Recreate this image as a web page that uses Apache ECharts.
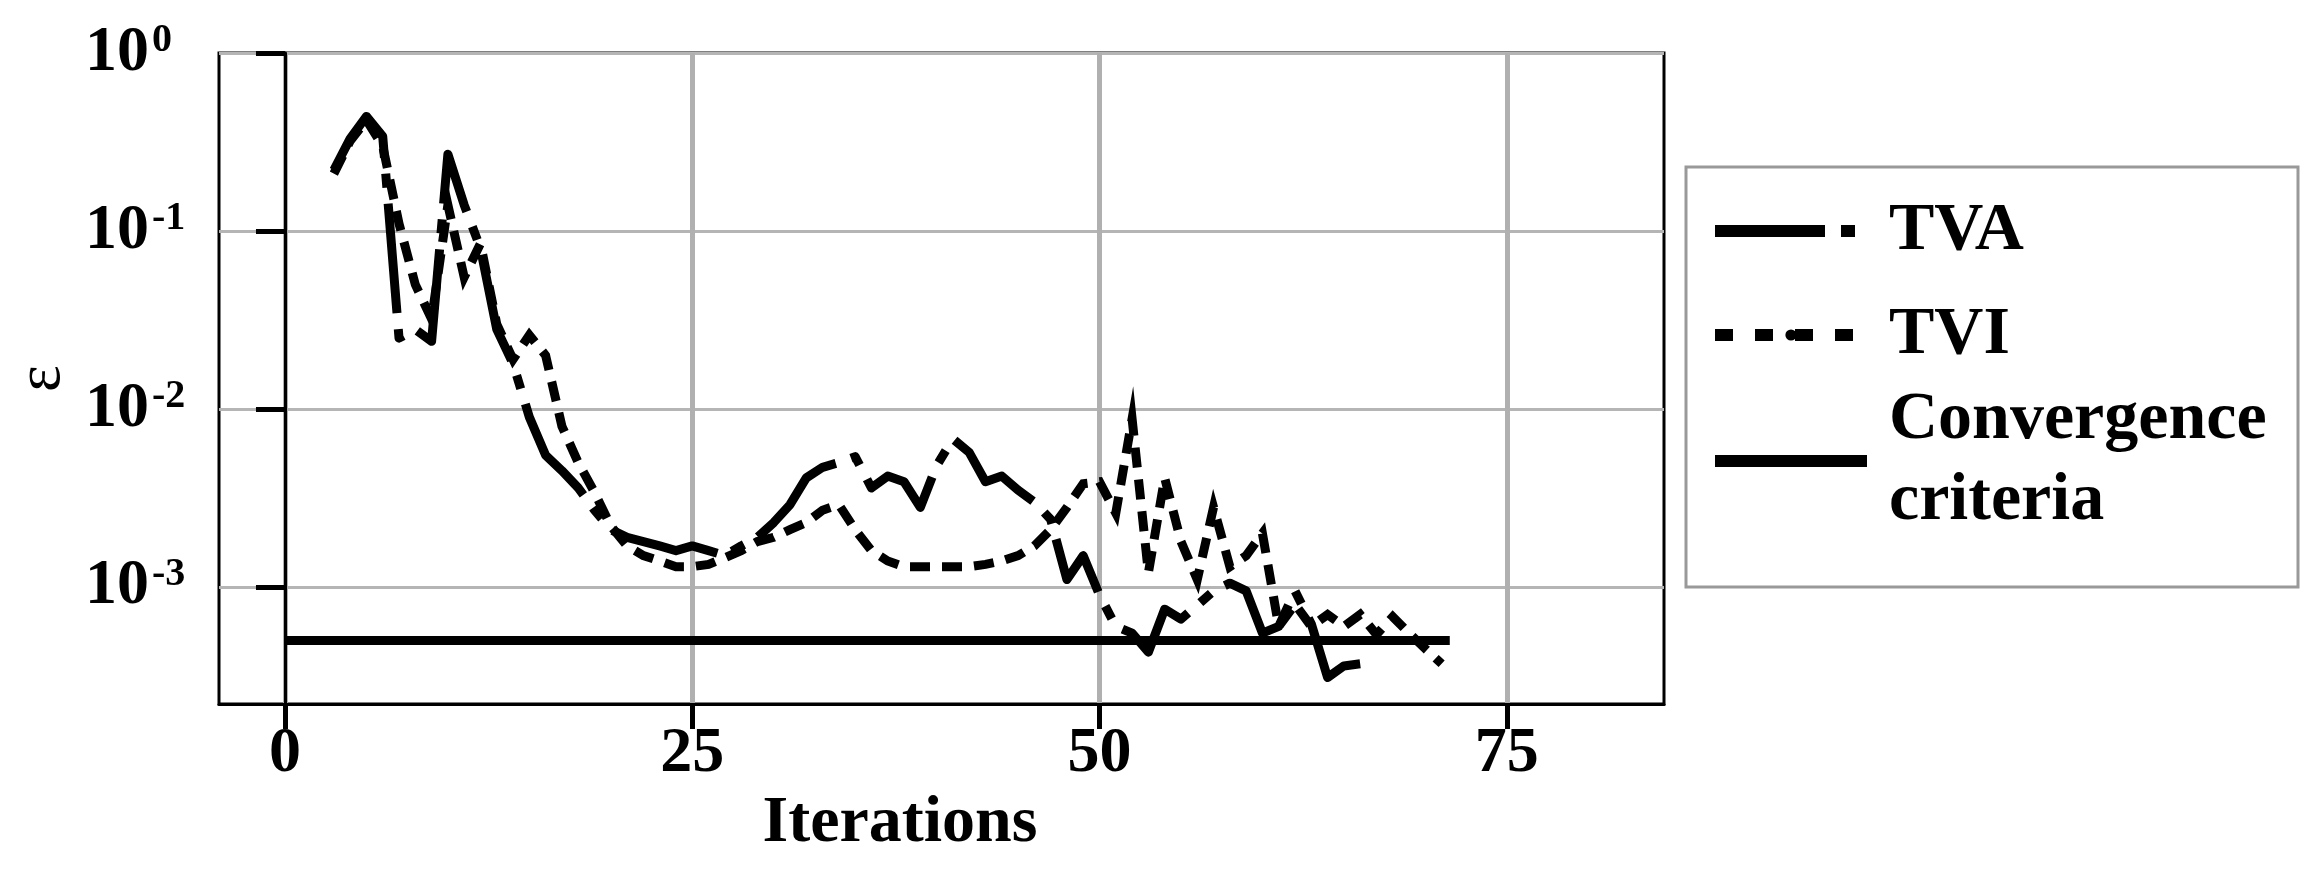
<!DOCTYPE html>
<html>
<head>
<meta charset="utf-8">
<script src="https://cdn.jsdelivr.net/npm/echarts@6/dist/echarts.min.js"></script>
<style>
html,body{margin:0;padding:0;background:#ffffff;}
#chart{width:2319px;height:880px;}
</style>
</head>
<body>
<div id="chart"></div>
<script>
// ---- data ----
const iterTVA = [3,4,5,6,7,8,9,10,11,12,13,14,15,16,17,18,19,20,21,22,23,24,25,26,27,28,29,30,31,32,33,34,35,36,37,38,39,40,41,42,43,44,45,46,47,48,49,50,51,52,53,54,55,56,57,58,59,60,61,62,63,64,65,66];
const tva = [0.22,0.33,0.44,0.34,0.025,0.028,0.024,0.27,0.14,0.08,0.028,0.018,0.009,0.0055,0.0045,0.0036,0.0027,0.0021,0.0019,0.0018,0.0017,0.0016,0.0017,0.0016,0.0015,0.0017,0.0019,0.0023,0.0029,0.0041,0.0047,0.005,0.0054,0.0036,0.0042,0.0039,0.0028,0.0048,0.0068,0.0057,0.0039,0.0042,0.0035,0.003,0.0024,0.0011,0.0015,0.0009,0.0006,0.00055,0.00043,0.00075,0.00066,0.00079,0.00095,0.00105,0.00095,0.00055,0.0006,0.00095,0.00062,0.00031,0.00036,0.00037];

const iterTVI = [3,4,5,6,7,8,9,10,11,12,13,14,15,16,17,18,19,20,21,22,23,24,25,26,27,28,29,30,31,32,33,34,35,36,37,38,39,40,41,42,43,44,45,46,47,48,49,50,51,52,53,54,55,56,57,58,59,60,61,62,63,64,65,66,67,68,69,70,71];
const tvi = [0.21,0.32,0.42,0.30,0.11,0.05,0.032,0.14,0.055,0.085,0.03,0.019,0.026,0.02,0.008,0.005,0.0034,0.0022,0.0017,0.0015,0.0014,0.0013,0.0013,0.00134,0.00146,0.0016,0.0018,0.0019,0.0021,0.0023,0.0027,0.0029,0.0021,0.0016,0.0014,0.0013,0.0013,0.0013,0.0013,0.0013,0.00134,0.0014,0.0015,0.0017,0.0021,0.0028,0.0038,0.0039,0.0026,0.0088,0.0012,0.0041,0.0018,0.0011,0.0028,0.0013,0.0015,0.002,0.0006,0.0008,0.0006,0.0007,0.0006,0.0007,0.00054,0.00068,0.00055,0.00045,0.00037];

const convIter = [0, 71.5];
const convValue = [0.0005, 0.0005];

const xTickValues = [0, 25, 50, 75];
const yTickValues = [0.001, 0.01, 0.1, 1];

const seriesNames = ['TVA', 'TVI', 'Convergence criteria'];

// ---- chart ----
const serif = 'Liberation Serif';
const chart = echarts.init(document.getElementById('chart'), null, {renderer: 'canvas'});

const option = {
  animation: false,
  backgroundColor: '#ffffff',
  grid: {
    left: 219, top: 53, right: 655, bottom: 176,
    show: true, borderColor: '#000000', borderWidth: 3, backgroundColor: 'transparent'
  },
  legend: {
    orient: 'vertical',
    left: 1686, top: 167,
    padding: [5, 22, 45, 23],
    itemGap: -14,
    itemWidth: 152,
    itemHeight: 14,
    backgroundColor: '#ffffff',
    borderColor: '#999999',
    borderWidth: 3,
    selectedMode: false,
    lineStyle: {width: 12},
    textStyle: {
      fontFamily: serif, fontWeight: 'bold', fontSize: 68, color: '#000000',
      width: 387, lineHeight: 118, padding: [0, 0, 0, 17]
    },
    formatter: function (n) { return n === 'Convergence criteria' ? 'Convergence\ncriteria' : n; },
    data: [
      {name: seriesNames[0]},
      {name: seriesNames[1], lineStyle: {type: [18, 22]}},
      {name: seriesNames[2], textStyle: {lineHeight: 81}}
    ]
  },
  xAxis: {
    type: 'value',
    min: -4.05, max: 84.65,
    axisLine: {show: true, onZero: false, lineStyle: {color: '#000000', width: 3}},
    axisTick: {show: true, customValues: xTickValues, length: 25, lineStyle: {color: '#000000', width: 5}},
    axisLabel: {
      customValues: xTickValues, margin: 18,
      fontFamily: serif, fontWeight: 'bold', fontSize: 64, color: '#000000'
    },
    splitLine: {show: true, lineStyle: {color: '#b0b0b0', width: 5}},
    name: 'Iterations',
    nameLocation: 'middle',
    nameGap: 84,
    nameTextStyle: {fontFamily: serif, fontWeight: 'bold', fontSize: 66, color: '#000000', padding: [0, 83, 0, 0]}
  },
  yAxis: {
    type: 'log',
    logBase: 10,
    min: 0.00022, max: 1,
    axisLine: {show: true, lineStyle: {color: '#000000', width: 3}},
    axisTick: {show: true, customValues: yTickValues, length: 29, lineStyle: {color: '#000000', width: 5}},
    axisLabel: {
      customValues: yTickValues, margin: 134, align: 'left',
      formatter: function (v) {
        const e = Math.round(Math.log10(v));
        return '{b|10}{s|' + e + '}';
      },
      rich: {
        b: {fontFamily: serif, fontWeight: 'bold', fontSize: 64, lineHeight: 64, color: '#000000'},
        s: {fontFamily: serif, fontWeight: 'bold', fontSize: 40, lineHeight: 20, verticalAlign: 'top', color: '#000000', padding: [0, 0, 0, 3]}
      }
    },
    splitLine: {show: true, lineStyle: {color: '#b5b5b5', width: 3}},
    minorTick: {show: false},
    minorSplitLine: {show: false},
    name: 'ε',
    nameLocation: 'middle',
    nameGap: 140,
    nameTextStyle: {fontFamily: serif, fontSize: 64, color: '#000000'}
  },
  series: [
    {
      name: seriesNames[0], type: 'line', z: 4,
      symbol: 'none', showSymbol: false,
      data: iterTVA.map(function (x, i) { return [x, tva[i]]; }),
      lineStyle: {color: '#000000', width: 9, type: [110, 16, 14, 16], cap: 'butt', join: 'round'},
      itemStyle: {color: '#000000'}
    },
    {
      name: seriesNames[1], type: 'line', z: 3,
      symbol: 'none', showSymbol: false,
      data: iterTVI.map(function (x, i) { return [x, tvi[i]]; }),
      lineStyle: {color: '#000000', width: 9, type: [20, 12], cap: 'butt', join: 'miter'},
      itemStyle: {color: '#000000'}
    },
    {
      name: seriesNames[2], type: 'line', z: 2,
      symbol: 'none', showSymbol: false,
      data: convIter.map(function (x, i) { return [x, convValue[i]]; }),
      lineStyle: {color: '#000000', width: 9, type: 'solid'},
      itemStyle: {color: '#000000'}
    }
  ]
};
chart.setOption(option);
</script>
</body>
</html>
